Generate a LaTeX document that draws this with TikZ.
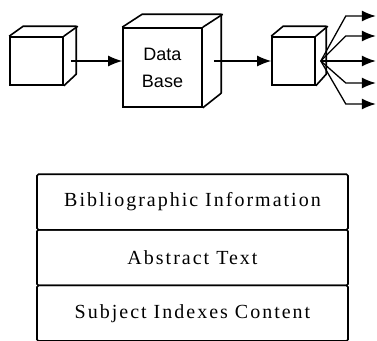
\documentclass[tikz,border=0pt]{standalone}
\usepackage{fontspec}
\setmainfont{Liberation Serif}
\setsansfont{Liberation Sans}
\newfontfamily\spacedserif[LetterSpace=10]{Liberation Serif}
\usetikzlibrary{positioning,arrows.meta}

\begin{document}
\begin{tikzpicture}[x=1pt,y=1pt,yscale=-1,xscale=1,
		edge/.style={line width=1.6pt,line join=round},
		front/.style={draw,line width=1.6pt,inner sep=0pt,fill=white},
		flow/.style={line width=1.3pt,-{Latex[length=14pt,width=11pt]}},
		row/.style={draw,line width=1.6pt,rounded corners=1.5pt,minimum width=311pt,minimum height=55.6pt,inner sep=0pt,font=\spacedserif\fontsize{20}{24}\selectfont}]
		
		\useasboundingbox (0,0) rectangle (377,340);
		
		% Shape: kleiner Eingangswürfel
		\node [front,minimum width=53pt,minimum height=48pt] (inbox) at (36.5,61) {};
		\draw [edge] (inbox.north west) -- ++(14,-10) -- ++(53,0) -- ++(0,48) -- (inbox.south east);
		\draw [edge] (inbox.north east) -- ++(14,-10);
		
		% Shape: großer Würfel Data Base
		\node [front,minimum width=79pt,minimum height=79pt,align=center,font=\sffamily\fontsize{18}{27}\selectfont] (db) at (162.5,67.5) {Data\\Base};
		\draw [edge] (db.north west) -- ++(20,-13) -- ++(79,0) -- ++(0,79) -- (db.south east);
		\draw [edge] (db.north east) -- ++(20,-13);
		
		% Shape: Ausgangswürfel
		\node [front,minimum width=43pt,minimum height=48pt] (outbox) at (293.5,61) {};
		\draw [edge] (outbox.north west) -- ++(12,-10) -- ++(43,0) -- ++(0,48) -- (outbox.south east);
		\draw [edge] (outbox.north east) -- ++(12,-10);
		
		% Pfeile
		\draw [flow] (inbox.east) ++(7,0) -- (inbox.east -| db.west);
		\draw [flow] (outbox.west -| db.east) ++(11,0) -- (outbox.west);
		
		% Fächer
		\coordinate (fan) at ([xshift=5pt]outbox.east);
		\foreach \dy in {-45,-25,0,22,43}
			\draw [flow] (fan) -- ++(25,\dy) -- ++(30,0);
		
		% Tabelle
		\node [row] (biblio) at (192.5,202) {Bibliographic Information};
		\node [row,below=-1.6pt of biblio] (abstract) {Abstract Text};
		\node [row,below=-1.6pt of abstract] (subject) {Subject Indexes Content};
		
	\end{tikzpicture}
\end{document}
